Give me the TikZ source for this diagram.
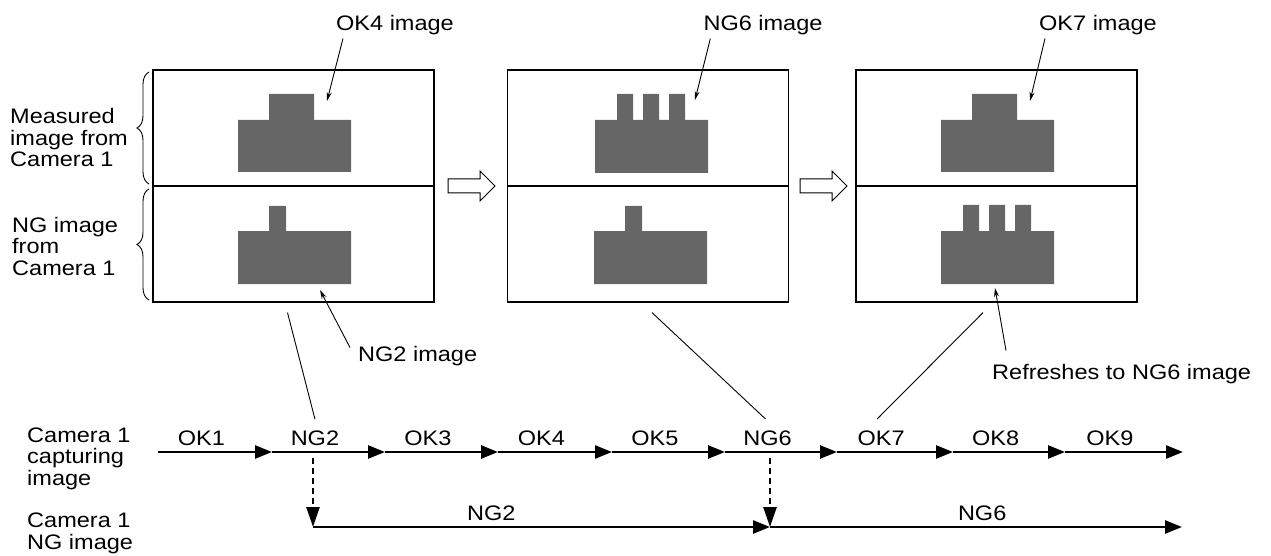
\documentclass[tikz,border=0pt]{standalone}
\usepackage{fontspec}
\setmainfont[FakeStretch=1.12]{Liberation Sans}
\usepackage{xcolor}
\usetikzlibrary{arrows.meta,positioning,decorations.pathreplacing,calc}

\definecolor{shapegray}{RGB}{102,102,102}

\tikzset{
  lbl/.style={font=\fontsize{21pt}{21.5pt}\selectfont, inner sep=0pt, align=left},
  panel/.style={draw, line width=1.2pt, minimum width=281pt, minimum height=232pt, inner sep=0pt},
  timeline/.style={line width=2.6pt, -{Triangle[length=17pt,width=13pt]}},
  dropline/.style={line width=2.6pt, dash pattern=on 6pt off 4pt, -{Triangle[length=20pt,width=13pt]}},
  callout/.style={line width=0.9pt, -{Stealth[length=9pt,width=5pt]}},
  thinline/.style={line width=0.9pt},
  bracket/.style={line width=0.9pt, decorate, decoration={brace, amplitude=12pt}},
  tlabel/.style={lbl, anchor=base, yshift=7pt}
}

% work piece with one wide bump (OK)
\newcommand{\okpart}[2]{%
  \fill[shapegray, shift={(#1,#2)}] (0,52) -- (0,0) -- (31,0) -- (31,-26) -- (76,-26)
    -- (76,0) -- (113,0) -- (113,52) -- cycle;}
% work piece with one narrow bump (NG2)
\newcommand{\ngtwopart}[2]{%
  \fill[shapegray, shift={(#1,#2)}] (0,53) -- (0,0) -- (31,0) -- (31,-25) -- (48,-25)
    -- (48,0) -- (113,0) -- (113,53) -- cycle;}
% work piece with three bumps (NG6)
\newcommand{\ngsixpart}[2]{%
  \fill[shapegray, shift={(#1,#2)}] (0,53) -- (0,0) -- (22,0) -- (22,-26) -- (38,-26)
    -- (38,0) -- (48,0) -- (48,-26) -- (64,-26) -- (64,0) -- (74,0) -- (74,-26)
    -- (90,-26) -- (90,0) -- (113,0) -- (113,53) -- cycle;}
% hollow arrow between panels
\newcommand{\hollowarrow}[1]{%
  \draw[line width=1pt, fill=white, shift={(#1,186)}] (0,-7) -- (32,-7) -- (32,-15)
    -- (47,0) -- (32,15) -- (32,7) -- (0,7) -- cycle;}

\begin{document}
\begin{tikzpicture}[x=1pt, y=-1pt]
  \useasboundingbox (0,0) rectangle (1271,556);

  % panels
  \node[panel] (p1) at (293.5,186) {};
  \node[panel] (p2) at (648,186) {};
  \node[panel] (p3) at (996.5,186) {};
  \foreach \p in {p1,p2,p3}
    \draw[line width=1.2pt] (\p.west) -- (\p.east);

  \okpart{238}{120}
  \ngtwopart{238}{231}
  \ngsixpart{595}{120}
  \ngtwopart{594}{231}
  \okpart{941}{120}
  \ngsixpart{941}{231}

  \hollowarrow{448}
  \hollowarrow{800}

  % left labels
  \draw[bracket] (149,184) -- (149,72);
  \draw[bracket] (149,300) -- (149,189);
  \node[lbl, anchor=base west] (measlbl) at (10,167) {Measured\\image from\\Camera 1};
  \node[lbl, anchor=base west] (nglbl) at (12,275) {NG image\\from\\Camera 1};

  % callouts
  \node[lbl, anchor=base] (ok4lbl) at (395,31) {OK4 image};
  \node[lbl, anchor=base] (ng6lbl) at (763,31) {NG6 image};
  \node[lbl, anchor=base] (ok7lbl) at (1098,31) {OK7 image};
  \node[lbl, anchor=base west] (ng2lbl) at (358,361) {NG2 image};
  \node[lbl, anchor=base west] (reflbl) at (992,379) {Refreshes to NG6 image};
  \coordinate (ok4tip) at (327,101);
  \coordinate (ng6tip) at (695,100);
  \coordinate (ok7tip) at (1030,101);
  \coordinate (ng2tip) at (320,290);
  \coordinate (reftip) at (995,288);
  \draw[callout] ($(ok4lbl.south west)+(7,3)$) -- (ok4tip);
  \draw[callout] ($(ng6lbl.south west)+(7,3)$) -- (ng6tip);
  \draw[callout] ($(ok7lbl.south west)+(6,3)$) -- (ok7tip);
  \draw[callout] ($(ng2lbl.north west)+(-8,2)$) -- (ng2tip);
  \draw[callout] ($(reflbl.north west)+(14,-13)$) -- (reftip);

  % capturing time line
  \node[lbl, anchor=base west] (caplbl) at (27,485) {Camera 1\\capturing\\image};
  \node[lbl, anchor=base west] (nglinelbl) at (27,549) {Camera 1\\NG image};
  \foreach \x [count=\i from 0] in {158,272,385,498,612,725,837,953,1065,1183}
    \coordinate (c\i) at (\x,452);
  \foreach \lab [count=\i] in {OK1,NG2,OK3,OK4,OK5,NG6,OK7,OK8,OK9} {
    \pgfmathtruncatemacro{\j}{\i-1}
    \draw[timeline] (c\j) -- (c\i) node[tlabel, pos=0.38] (l\lab) {\lab};
  }

  % NG image line
  \coordinate (s2) at (313,458);
  \coordinate (s6) at (770,458);
  \coordinate (b2) at (313,527);
  \coordinate (b6) at (770,527);
  \coordinate (bend) at (1182,527);
  \draw[dropline] (s2) -- (b2);
  \draw[dropline] (s6) -- (b6);
  \draw[timeline] (b2) -- (b6) node[tlabel, pos=0.39] (mNG2) {NG2};
  \draw[timeline] (b6) -- (bend) node[tlabel, pos=0.515] (mNG6) {NG6};

  % links from panels to capture times
  \draw[thinline] ($(p1.south)+(-6,10)$) -- ($(lNG2.north)+(0,-10)$);
  \draw[thinline] ($(p2.south)+(4,10)$) -- ($(lNG6.north)+(-2,-10)$);
  \draw[thinline] ($(p3.south)+(-13.5,10)$) -- ($(lOK7.north)+(-4,-10)$);
\end{tikzpicture}
\end{document}
